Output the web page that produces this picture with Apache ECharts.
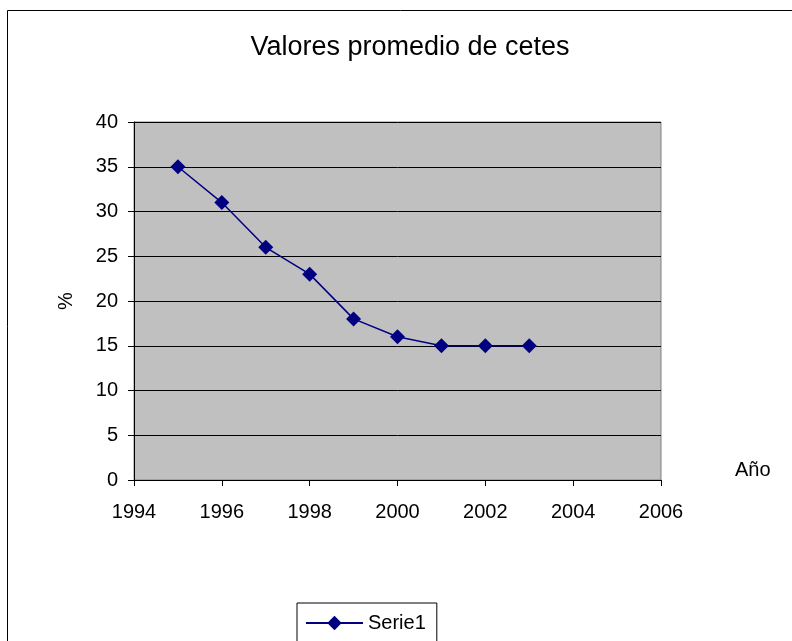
<!DOCTYPE html>
<html>
<head>
<meta charset="utf-8">
<script src="https://cdn.jsdelivr.net/npm/echarts@6/dist/echarts.min.js"></script>
<style>
  html, body { margin: 0; padding: 0; background: #fff; }
  #chart { width: 792px; height: 641px; }
</style>
</head>
<body>
<div id="chart"></div>
<script>
// datos
var years = [1995, 1996, 1997, 1998, 1999, 2000, 2001, 2002, 2003]
var cetes = [35, 31, 26, 23, 18, 16, 15, 15, 15]
var seriesName = 'Serie1'

var points = years.map(function (y, i) { return [y, cetes[i]] })

var chart = echarts.init(document.getElementById('chart'))
var option = {
  animation: false,
  textStyle: { fontFamily: 'Liberation Sans, Arial, sans-serif' },
  title: {
    text: 'Valores promedio de cetes',
    left: 405,
    textAlign: 'center',
    top: 29,
    textStyle: { color: '#000', fontSize: 27, fontWeight: 'normal' }
  },
  graphic: [{
    type: 'rect',
    shape: { x: 7.5, y: 10.5, width: 900, height: 900 },
    style: { fill: 'none', stroke: '#000', lineWidth: 1 },
    silent: true
  }],
  legend: {
    data: [seriesName],
    left: 297,
    top: 603,
    orient: 'horizontal',
    borderColor: '#000',
    borderWidth: 1,
    padding: [10, 11, 40, 8],
    itemWidth: 57,
    itemHeight: 18,
    itemGap: 6,
    textStyle: { color: '#000', fontSize: 20 }
  },
  grid: {
    left: 134,
    top: 122,
    right: 131,
    bottom: 161,
    outerBoundsMode: 'none',
    show: true,
    backgroundColor: '#c0c0c0',
    borderColor: '#808080',
    borderWidth: 1
  },
  xAxis: {
    type: 'value',
    min: 1994,
    max: 2006,
    interval: 2,
    name: 'Año',
    nameLocation: 'end',
    nameGap: 74,
    nameTextStyle: { color: '#000', fontSize: 20, verticalAlign: 'bottom' },
    axisLine: { show: true, lineStyle: { color: '#000' } },
    axisTick: { show: true, length: 6, lineStyle: { color: '#000' } },
    axisLabel: {
      color: '#000',
      fontSize: 20,
      margin: 22,
      formatter: function (v) { return String(v) }
    },
    splitLine: { show: false }
  },
  yAxis: {
    type: 'value',
    min: 0,
    max: 40,
    interval: 5,
    name: '%',
    nameLocation: 'middle',
    nameRotate: 90,
    nameGap: 58,
    nameTextStyle: { color: '#000', fontSize: 20 },
    axisLine: { show: true, lineStyle: { color: '#000' } },
    axisTick: { show: true, length: 6, lineStyle: { color: '#000' } },
    axisLabel: { color: '#000', fontSize: 20, margin: 16 },
    splitLine: { show: true, lineStyle: { color: '#000', width: 1 } }
  },
  series: [{
    name: seriesName,
    type: 'line',
    data: points,
    symbol: 'diamond',
    symbolSize: 15,
    itemStyle: { color: '#000080' },
    lineStyle: { color: '#000080', width: 1.5 }
  }]
}
chart.setOption(option)
</script>
</body>
</html>
